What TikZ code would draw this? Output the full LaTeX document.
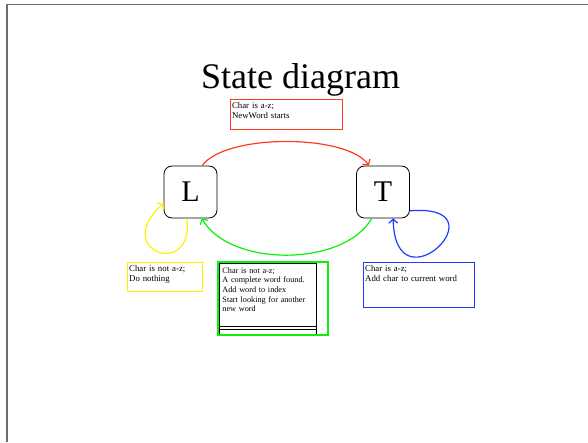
\documentclass[tikz,border=0pt]{standalone}
\usepackage{fontspec}
\setmainfont{Liberation Serif}
\usetikzlibrary{arrows.meta, positioning}
\definecolor{redline}{RGB}{255,60,30}
\definecolor{yellowline}{RGB}{255,240,0}
\definecolor{greenline}{RGB}{10,240,10}
\definecolor{blueline}{RGB}{30,60,255}
\definecolor{frameline}{RGB}{110,110,110}
\newcommand{\notefont}{\fontsize{8.8}{9.9}\selectfont}

\begin{document}
\begin{tikzpicture}[x=1pt, y=1pt, >={Straight Barb[length=4pt,width=9pt]},
  state/.style={draw, rounded corners=8pt, minimum width=53pt, minimum height=52pt, inner sep=0pt, line width=0.8pt, font=\fontsize{30}{30}\selectfont},
  note/.style={draw, anchor=north west, inner xsep=1.5pt, inner ysep=2.5pt, align=left, line width=1.1pt, font=\notefont},
  trans/.style={->, line width=1.2pt}]
\useasboundingbox (0,0) rectangle (588,442);
% slide frame
\draw[frameline, line width=1.5pt] (7,0) -- (7,437.5) -- (588,437.5);
\node[anchor=base, font=\fontsize{36}{36}\selectfont] (title) at (300.5,353) {State diagram};
\node[state] (L) at (190.5,250) {L};
\node[state] (T) at (383,250) {T};
% notes
\node[note, draw=redline, text width=109pt, text depth=19pt] (newword) at (230,343) {Char is a-z;\\NewWord starts};
\node[note, draw=yellowline, line width=1.3pt, text width=72pt, text depth=18pt] (nothing) at (127,180) {Char is not a-z;\\Do nothing};
\node[note, draw=blueline, line width=1.3pt, text width=108pt, text depth=34pt] (addchar) at (363,180) {Char is a-z;\\Add char to current word};
\node[note, draw=black, line width=0.9pt, inner xsep=3.5pt, inner ysep=4pt, text width=90pt, text depth=57pt, font=\fontsize{8.2}{9.7}\selectfont] (wordfound) at (218.5,179) {Char is not a-z;\\A complete word found.\\Add word to index\\Start looking for another\\new word};
\draw[line width=0.9pt] ([yshift=8pt]wordfound.south west) -- ([yshift=8pt]wordfound.south east);
\draw[line width=0.9pt] ([yshift=5.5pt]wordfound.south west) -- ([yshift=5.5pt]wordfound.south east);
\node[draw=greenline, anchor=north west, minimum width=110pt, minimum height=73pt, inner sep=0pt, line width=1.5pt] (found) at (217,181) {};
% transitions
\draw[trans, redline] (L.66) to[out=55, in=125, looseness=0.6] (T.118);
\draw[trans, greenline] (T.-113) to[out=-120, in=-60, looseness=0.85] (L.-67);
\draw[trans, yellowline] (L.-98) .. controls +(8,-62) and +(-54,-47) .. (L.-157);
\draw[trans, blueline] (T.-35) .. controls +(96,8) and +(2,-94) .. (T.-69);
\end{tikzpicture}
\end{document}
